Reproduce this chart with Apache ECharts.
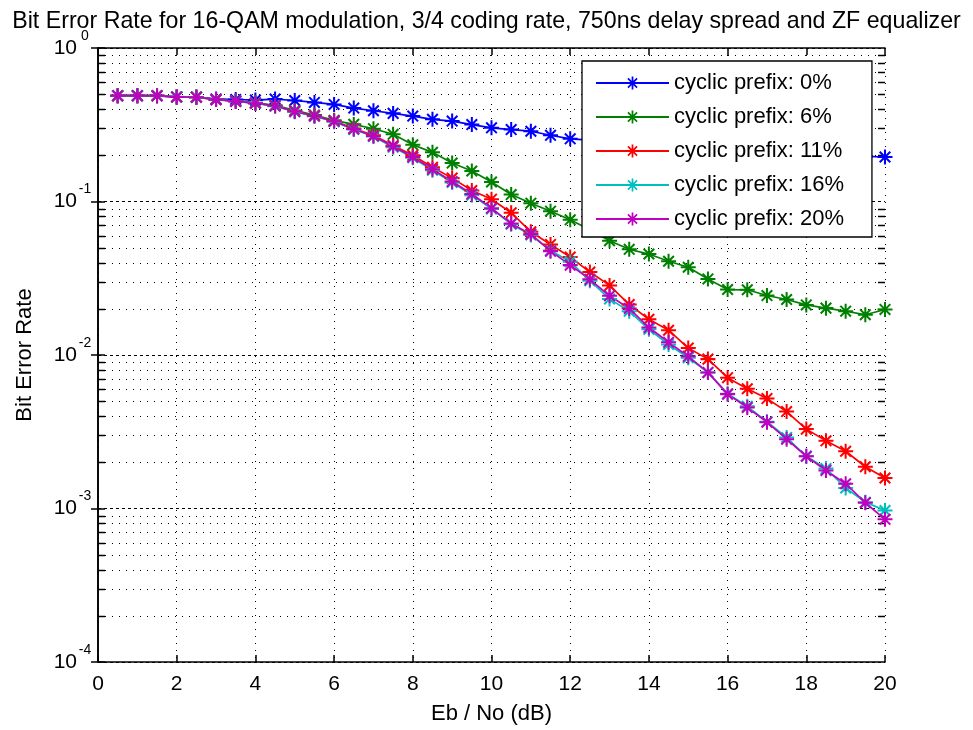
<!DOCTYPE html>
<html>
<head>
<meta charset="utf-8">
<script src="https://cdn.jsdelivr.net/npm/echarts@6/dist/echarts.min.js"></script>
<style>
  html, body { margin: 0; padding: 0; background: #ffffff; }
  #chart { width: 973px; height: 730px; }
</style>
</head>
<body>
<div id="chart"></div>
<script>
// Eb/No sweep (dB)
const ebNo = [0.5, 1, 1.5, 2, 2.5, 3, 3.5, 4, 4.5, 5, 5.5, 6, 6.5, 7, 7.5, 8, 8.5, 9, 9.5, 10,
              10.5, 11, 11.5, 12, 12.5, 13, 13.5, 14, 14.5, 15, 15.5, 16, 16.5, 17, 17.5, 18, 18.5, 19, 19.5, 20];

// Measured bit error rate for each cyclic prefix length
const berCp0 = [0.489, 0.489, 0.488, 0.480, 0.479, 0.466, 0.462, 0.458, 0.465, 0.455, 0.442, 0.429, 0.406, 0.390, 0.375, 0.360, 0.343, 0.334, 0.317, 0.302,
                0.294, 0.287, 0.270, 0.256, 0.251, 0.245, 0.238, 0.233, 0.229, 0.224, 0.219, 0.216, 0.212, 0.209, 0.206, 0.203, 0.201, 0.199, 0.197, 0.195];
const berCp6 = [0.489, 0.489, 0.489, 0.480, 0.478, 0.462, 0.451, 0.440, 0.423, 0.392, 0.366, 0.338, 0.318, 0.298, 0.274, 0.234, 0.209, 0.178, 0.158, 0.134,
                0.111, 0.0975, 0.0865, 0.0760, 0.0655, 0.0555, 0.0488, 0.0455, 0.0408, 0.0373, 0.0313, 0.0267, 0.0266, 0.0244, 0.0230, 0.0212, 0.0202, 0.0193, 0.0183, 0.0198];
const berCp11 = [0.489, 0.489, 0.489, 0.480, 0.478, 0.462, 0.450, 0.437, 0.419, 0.387, 0.362, 0.334, 0.299, 0.270, 0.232, 0.200, 0.167, 0.142, 0.118, 0.1035,
                 0.0845, 0.0635, 0.0525, 0.0435, 0.0347, 0.0284, 0.0213, 0.0171, 0.0145, 0.0111, 0.0094, 0.00712, 0.00603, 0.00520, 0.00428, 0.00329, 0.00276, 0.00236, 0.00187, 0.00158];
const berCp16 = [0.489, 0.489, 0.489, 0.481, 0.477, 0.462, 0.450, 0.436, 0.418, 0.384, 0.359, 0.331, 0.295, 0.265, 0.226, 0.193, 0.160, 0.133, 0.110, 0.0895,
                 0.0712, 0.0605, 0.0480, 0.0405, 0.0305, 0.0232, 0.0193, 0.0147, 0.0117, 0.0096, 0.0077, 0.00560, 0.00463, 0.00368, 0.00290, 0.00219, 0.00182, 0.00136, 0.00110, 0.00097];
const berCp20 = [0.489, 0.489, 0.488, 0.480, 0.478, 0.461, 0.449, 0.437, 0.420, 0.386, 0.361, 0.333, 0.297, 0.267, 0.229, 0.195, 0.162, 0.135, 0.112, 0.0905,
                 0.0718, 0.0613, 0.0475, 0.0385, 0.0311, 0.0243, 0.0201, 0.0151, 0.0121, 0.0098, 0.0077, 0.00556, 0.00455, 0.00365, 0.00283, 0.00219, 0.00177, 0.00145, 0.00109, 0.00085];

const seriesNames = ['cyclic prefix: 0%', 'cyclic prefix: 6%', 'cyclic prefix: 11%', 'cyclic prefix: 16%', 'cyclic prefix: 20%'];
const seriesValues = [berCp0, berCp6, berCp11, berCp16, berCp20];
const seriesColors = ['#0000ff', '#008000', '#ff0000', '#00bfbf', '#bf00bf'];

// Axis ranges and tick positions
const xMin = 0, xMax = 20, xInterval = 2;
const yMin = 1e-4, yMax = 1;
const decades = [1e-4, 1e-3, 1e-2, 1e-1];
const minorMultipliers = [2, 3, 4, 5, 6, 7, 8, 9];
const minorValues = decades.flatMap(d => minorMultipliers.map(m => m * d));

const FONT = '"Liberation Sans", Arial, Helvetica, sans-serif';

// eight-armed asterisk marker with a solid hub
const ASTERISK = 'path://M-1.35,-10L1.35,-10L1.35,10L-1.35,10Z' +
  'M-10,-1.35L10,-1.35L10,1.35L-10,1.35Z' +
  'M-8.02,-6.12L-6.12,-8.02L8.02,6.12L6.12,8.02Z' +
  'M-6.12,8.02L-8.02,6.12L6.12,-8.02L8.02,-6.12Z' +
  'M-2.6,-2.6L2.6,-2.6L2.6,2.6L-2.6,2.6Z';

const chart = echarts.init(document.getElementById('chart'), null, { renderer: 'canvas' });

const powerLabel = v => {
  const e = Math.round(Math.log10(v));
  return '{b|10}{e|' + e + '}';
};

const lineSeries = seriesNames.map((name, i) => ({
  name: name,
  type: 'line',
  xAxisIndex: 0,
  yAxisIndex: 0,
  data: ebNo.map((x, k) => [x, seriesValues[i][k]]),
  symbol: ASTERISK,
  symbolSize: 15,
  showSymbol: true,
  lineStyle: { color: seriesColors[i], width: 1.7 },
  itemStyle: { color: seriesColors[i] },
  emphasis: { disabled: true },
  z: 3,
  animation: false
}));

// dotted minor grid of the log axis plus its inward ticks on both sides
const minorGrid = {
  type: 'custom',
  xAxisIndex: 0,
  yAxisIndex: 0,
  silent: true,
  z: 1,
  animation: false,
  data: minorValues.map(v => [xMin, v]),
  renderItem: function (params, api) {
    const v = api.value(1);
    const a = api.coord([xMin, v]);
    const b = api.coord([xMax, v]);
    const y = Math.round(a[1]) + 0.5;
    return {
      type: 'group',
      children: [
        { type: 'line', shape: { x1: a[0], y1: y, x2: b[0], y2: y },
          style: { stroke: '#000', lineWidth: 1, lineDash: [1, 6] } },
        { type: 'line', shape: { x1: a[0], y1: y, x2: a[0] + 7, y2: y },
          style: { stroke: '#000', lineWidth: 1.5 } },
        { type: 'line', shape: { x1: b[0] - 7, y1: y, x2: b[0], y2: y },
          style: { stroke: '#000', lineWidth: 1.5 } }
      ]
    };
  }
};

const axisLineStyle = { show: true, lineStyle: { color: '#000', width: 1.6 } };
const tickStyle = { show: true, inside: true, length: 7, lineStyle: { color: '#000', width: 1.5 } };

chart.setOption({
  animation: false,
  backgroundColor: '#ffffff',
  textStyle: { fontFamily: FONT, color: '#000' },
  title: {
    text: 'Bit Error Rate for 16-QAM modulation, 3/4 coding rate, 750ns delay spread and ZF equalizer',
    left: 'center',
    top: 5,
    textStyle: { fontFamily: FONT, fontSize: 23.2, fontWeight: 'normal', color: '#000' }
  },
  grid: { left: 98, right: 88, top: 48, bottom: 65 },
  legend: {
    data: seriesNames,
    orient: 'vertical',
    left: 582,
    top: 61,
    padding: [11, 28, 7, 13],
    itemWidth: 73,
    itemHeight: 16,
    itemGap: 12,
    backgroundColor: '#ffffff',
    borderColor: '#000',
    borderWidth: 1.3,
    borderRadius: 0,
    textStyle: { fontFamily: FONT, fontSize: 22, lineHeight: 22, color: '#000' }
  },
  xAxis: [
    {
      type: 'value', position: 'bottom', min: xMin, max: xMax, interval: xInterval,
      axisLine: axisLineStyle, axisTick: tickStyle,
      axisLabel: { fontFamily: FONT, fontSize: 21, color: '#000', margin: 12 },
      splitLine: { show: true, lineStyle: { color: '#000', width: 1, type: [1, 6] } },
      name: 'Eb / No (dB)', nameLocation: 'middle', nameGap: 41,
      nameTextStyle: { fontFamily: FONT, fontSize: 22, color: '#000' }
    },
    {
      type: 'value', position: 'top', min: xMin, max: xMax, interval: xInterval,
      axisLine: axisLineStyle, axisTick: tickStyle,
      axisLabel: { show: false }, splitLine: { show: false }
    }
  ],
  yAxis: [
    {
      type: 'log', logBase: 10, position: 'left', min: yMin, max: yMax,
      axisLine: axisLineStyle, axisTick: tickStyle,
      axisLabel: {
        margin: 5,
        formatter: powerLabel,
        rich: {
          b: { fontFamily: FONT, fontSize: 21, color: '#000' },
          e: { fontFamily: FONT, fontSize: 14, color: '#000', padding: [0, 0, 24, 0], width: 16, align: 'left' }
        }
      },
      splitLine: { show: true, lineStyle: { color: '#000', width: 1, type: [3, 3] } },
      name: 'Bit Error Rate', nameLocation: 'middle', nameGap: 62,
      nameTextStyle: { fontFamily: FONT, fontSize: 22, color: '#000' }
    },
    {
      type: 'log', logBase: 10, position: 'right', min: yMin, max: yMax,
      axisLine: axisLineStyle, axisTick: tickStyle,
      axisLabel: { show: false }, splitLine: { show: false }
    }
  ],
  series: [minorGrid].concat(lineSeries)
});
</script>
</body>
</html>
